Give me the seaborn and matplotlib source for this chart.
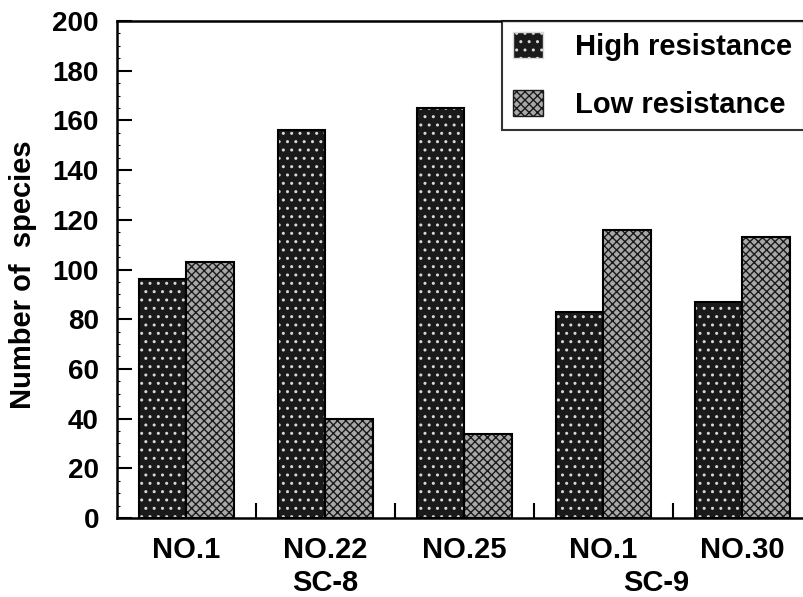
import matplotlib
matplotlib.use("Agg")
import matplotlib.pyplot as plt
from matplotlib.patches import Rectangle
from matplotlib.ticker import MultipleLocator, FixedLocator
import pandas as pd
import seaborn as sns

# datos
muestras = ["NO.1", "NO.22", "NO.25", "NO.1 ", "NO.30"]
etiquetas_x = ["NO.1", "NO.22", "NO.25", "NO.1", "NO.30"]
alta_resistencia = [96, 156, 165, 83, 87]
baja_resistencia = [103, 40, 34, 116, 113]
series = ["High resistance", "Low resistance"]
grupos = ["SC-8", "SC-9"]

df = pd.DataFrame({
    "Muestra": muestras * 2,
    "Tipo": [series[0]] * len(muestras) + [series[1]] * len(muestras),
    "Especies": alta_resistencia + baja_resistencia,
})

sns.set_style("white")
plt.rcParams["font.family"] = ["Liberation Sans", "DejaVu Sans"]
plt.rcParams["font.weight"] = "bold"
for clave in ["text.color", "axes.labelcolor", "xtick.color", "ytick.color"]:
    plt.rcParams[clave] = "black"

fig = plt.figure(figsize=(8.04, 5.97), dpi=100)
ax = fig.add_axes([0.1455, 0.1323, 0.8644, 0.8325])

sns.barplot(data=df, x="Muestra", y="Especies", hue="Tipo", order=muestras,
            hue_order=series, palette=["#1c1c1c", "#9a9a9a"], width=0.686,
            gap=0, saturation=1, ax=ax, legend=True)

# texturas: moteado oscuro y trama de puntos
estilos = {series[0]: ("#1a1a1a", "#d8d8d8", ".."), series[1]: ("#a8a8a8", "#1a1a1a", "xxxx")}
for cont, nombre in zip(ax.containers, series):
    cara, trama, hatch = estilos[nombre]
    for p in cont:
        p.set_facecolor(cara)
        p.set_edgecolor(trama)
        p.set_hatch(hatch)
        p.set_linewidth(0)
        ax.add_patch(Rectangle(p.get_xy(), p.get_width(), p.get_height(),
                               fill=False, ec="black", lw=1.5, zorder=3))

ax.set_xlim(-0.5, 4.5)
ax.set_ylim(0, 200)
ax.yaxis.set_major_locator(MultipleLocator(20))
ax.yaxis.set_minor_locator(MultipleLocator(5))
ax.xaxis.set_minor_locator(FixedLocator([0.5, 1.5, 2.5, 3.5]))
ax.set_xticks(range(len(muestras)))
ax.set_xticklabels(etiquetas_x, fontsize=21, fontweight="bold")
ax.tick_params(axis="y", which="both", left=True, direction="in")
ax.tick_params(axis="y", which="major", length=11, width=1.5, labelsize=20, pad=13)
ax.tick_params(axis="y", which="minor", length=2.5, width=0.8)
ax.tick_params(axis="x", which="both", bottom=True, direction="in")
ax.tick_params(axis="x", which="major", length=0, pad=13)
ax.tick_params(axis="x", which="minor", length=11, width=1.5)
for lab in ax.get_yticklabels():
    lab.set_fontweight("bold")

ax.set_xlabel("")
ax.set_ylabel("Number of  species", fontsize=21, fontweight="bold")
ax.yaxis.set_label_coords(-0.115, 0.49)

for lado in ["top", "left", "bottom"]:
    ax.spines[lado].set_visible(True)
    ax.spines[lado].set_linewidth(1.8)
    ax.spines[lado].set_color("black")
ax.spines["right"].set_visible(False)

# etiquetas de grupo
for nombre, xpos in zip(grupos, [1, 3.38]):
    ax.text(xpos, -0.131, nombre, transform=ax.get_xaxis_transform(),
            ha="center", va="center", fontsize=21, fontweight="bold")

leg = ax.legend(loc="upper right", bbox_to_anchor=(0.988, 1.0), fontsize=21,
                frameon=True, fancybox=False, edgecolor="black",
                handlelength=1.05, handleheight=1.0, handletextpad=1.1,
                labelspacing=0.98, borderpad=0.38, borderaxespad=0)
leg.get_frame().set_linewidth(1.5)
for t in leg.get_texts():
    t.set_fontweight("bold")
for h, nombre in zip(leg.legend_handles, series):
    cara, trama, hatch = estilos[nombre]
    h.set_facecolor(cara)
    h.set_edgecolor(trama)
    h.set_hatch(hatch)

fig.savefig("out.png", dpi=100)
